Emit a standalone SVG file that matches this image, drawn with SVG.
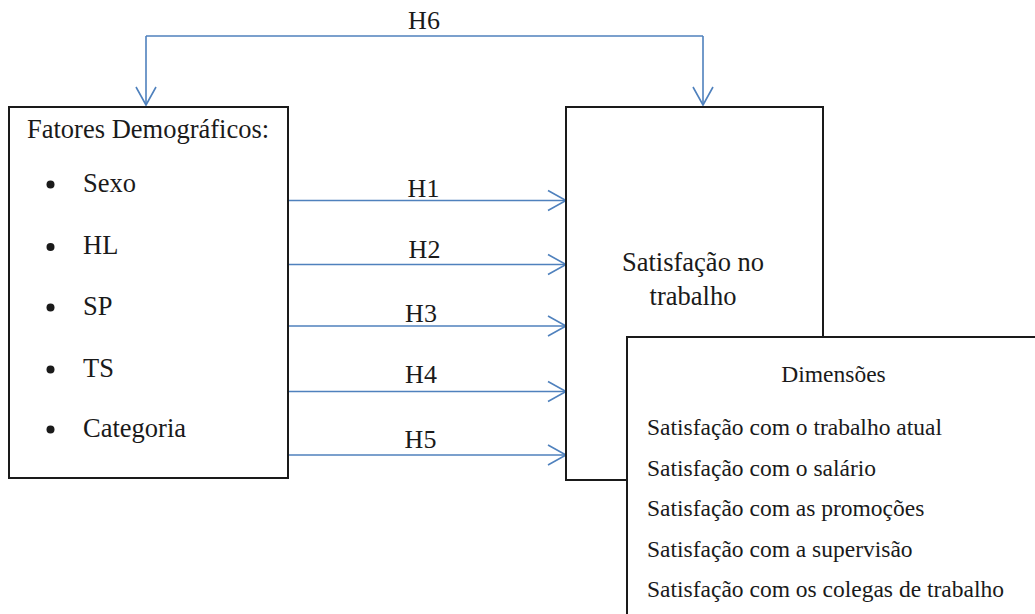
<svg xmlns="http://www.w3.org/2000/svg" width="1035" height="614" viewBox="0 0 1035 614">
<defs>
<style>
.box{fill:#fff;stroke:#1a1a1a;stroke-width:2}
.conn{fill:none;stroke:#4f81bd;stroke-width:1.6}
.t{font-family:"Liberation Serif","Times New Roman",serif;fill:#1a1a1a}
.big{font-size:26.5px}
.lab{font-size:26px}
.dim{font-size:23.5px}
</style>
<marker id="ah" markerUnits="userSpaceOnUse" markerWidth="24" markerHeight="24" viewBox="-20 -12 24 24" refX="0" refY="0" orient="auto">
<path d="M-18,-10 L0,0 L-18,10" fill="none" stroke="#4f81bd" stroke-width="1.6"/>
</marker>
</defs>
<rect width="1035" height="614" fill="#fff"/>
<g id="connectors">
<path class="conn" d="M146,36 H703" />
<path class="conn" d="M146,36 V105" marker-end="url(#ah)"/>
<path class="conn" d="M703,36 V105" marker-end="url(#ah)"/>
<path class="conn" d="M288,200.5 H566" marker-end="url(#ah)"/>
<path class="conn" d="M288,264.5 H566" marker-end="url(#ah)"/>
<path class="conn" d="M288,326 H566" marker-end="url(#ah)"/>
<path class="conn" d="M288,391.5 H566" marker-end="url(#ah)"/>
<path class="conn" d="M288,455 H566" marker-end="url(#ah)"/>
<text class="t lab" x="424" y="29" text-anchor="middle">H6</text>
<text class="t lab" x="423.5" y="196.5" text-anchor="middle">H1</text>
<text class="t lab" x="424.5" y="257.5" text-anchor="middle">H2</text>
<text class="t lab" x="421" y="322" text-anchor="middle">H3</text>
<text class="t lab" x="421" y="383" text-anchor="middle">H4</text>
<text class="t lab" x="420.5" y="448" text-anchor="middle">H5</text>
</g>
<g id="fatores">
<rect class="box" x="9" y="107" width="279" height="371"/>
<text class="t big" x="27" y="138">Fatores Demográficos:</text>
<circle cx="50.5" cy="184.5" r="4" fill="#1a1a1a"/>
<circle cx="50.5" cy="247" r="4" fill="#1a1a1a"/>
<circle cx="50.5" cy="307.5" r="4" fill="#1a1a1a"/>
<circle cx="50.5" cy="369.5" r="4" fill="#1a1a1a"/>
<circle cx="50.5" cy="429.5" r="4" fill="#1a1a1a"/>
<text class="t big" x="83" y="192">Sexo</text>
<text class="t big" x="83" y="254">HL</text>
<text class="t big" x="83" y="315">SP</text>
<text class="t big" x="83" y="377">TS</text>
<text class="t big" x="83" y="437">Categoria</text>
</g>
<g id="satisfacao">
<rect class="box" x="566" y="107" width="257" height="373"/>
<text class="t big" x="693" y="271" text-anchor="middle">Satisfação no</text>
<text class="t big" x="693" y="305" text-anchor="middle">trabalho</text>
</g>
<g id="dimensoes">
<rect class="box" x="627" y="337" width="420" height="300"/>
<text class="t dim" x="833.5" y="382" text-anchor="middle">Dimensões</text>
<text class="t dim" x="647" y="435">Satisfação com o trabalho atual</text>
<text class="t dim" x="647" y="476">Satisfação com o salário</text>
<text class="t dim" x="647" y="516">Satisfação com as promoções</text>
<text class="t dim" x="647" y="557">Satisfação com a supervisão</text>
<text class="t dim" x="647" y="597">Satisfação com os colegas de trabalho</text>
</g>
</svg>
